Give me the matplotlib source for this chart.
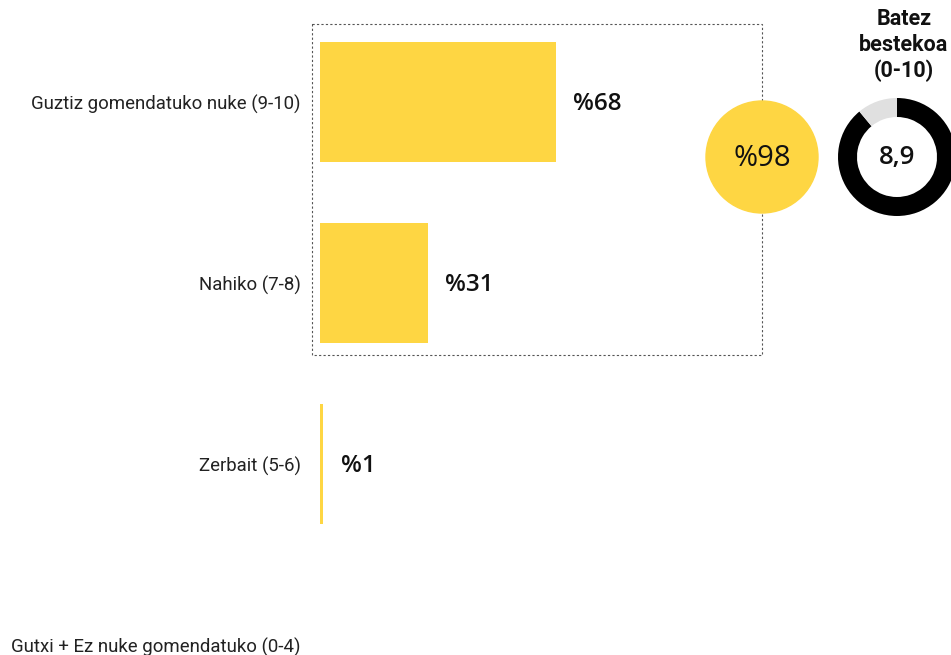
import matplotlib.pyplot as plt
from matplotlib.patches import Rectangle, Circle

# Recommendation levels and their shares (%)
categories = ['Guztiz gomendatuko nuke (9-10)', 'Nahiko (7-8)',
              'Zerbait (5-6)', 'Gutxi + Ez nuke gomendatuko (0-4)']
shares = [68, 31, 1, 0]
value_labels = ['%68', '%31', '%1', '']
recommend_total = 98          # 7-10 combined
avg_score = 8.9               # average on 0-10 scale
avg_label = '8,9'

YELLOW = '#FED643'
W, H = 951, 655

fig = plt.figure(figsize=(W / 100, H / 100), dpi=100)


def px_axes(x0, y0, x1, y1):
    # axes placed with pixel coords measured from the top-left corner
    return fig.add_axes([x0 / W, 1 - y1 / H, (x1 - x0) / W, (y1 - y0) / H])


# main bar chart: 0..100 spans 347 px starting at x=320
ax = px_axes(320, 0, 667, H)
ypos = range(len(categories))
ax.barh(ypos, shares, height=0.66, color=YELLOW)
ax.set_xlim(0, 100)
ax.set_ylim((655 - 102) / 181, -102 / 181)
ax.set_yticks(list(ypos))
ax.set_yticklabels(categories, fontsize=13.4, family='Roboto', color='#222222')
ax.tick_params(axis='y', length=0, pad=14)
ax.set_xticks([])
for s in ax.spines.values():
    s.set_visible(False)
for y, v, lab in zip(ypos, shares, value_labels):
    if lab:
        ax.text(v + 5, y + 0.01, lab, va='center', ha='left', fontsize=17.5,
                family='Open Sans', fontweight='semibold', color='#111111')

# overlay in pixel space for the frame and the summary circle
ov = fig.add_axes([0, 0, 1, 1], facecolor='none')
ov.set_xlim(0, W)
ov.set_ylim(H, 0)
ov.axis('off')
ov.add_patch(Rectangle((312, 24), 450, 331, fill=False, ec='#555555',
                       lw=0.8, ls=(0, (2, 2))))
ov.add_patch(Circle((762, 157), 56, color=YELLOW, zorder=3))
ov.text(762, 158, f'%{recommend_total}', ha='center', va='center',
        fontsize=21, family='Open Sans', fontweight='normal',
        color='#111111', zorder=4)

ov.text(904, 45, 'Batez\nbestekoa\n(0-10)', ha='center', va='center',
        fontsize=15.5, family='Roboto', fontweight='bold', linespacing=1.2,
        color='#111111')

# donut for the average score
dax = px_axes(838, 98, 956, 216)
dax.pie([avg_score, 10 - avg_score], colors=['#000000', '#E0E0E0'],
        startangle=90, counterclock=False, radius=1,
        wedgeprops=dict(width=19 / 59, linewidth=0))
dax.set_xlim(-1, 1)
dax.set_ylim(-1, 1)
dax.set_aspect('equal')
dax.text(0, 0, avg_label, ha='center', va='center', fontsize=18.5,
         family='Open Sans', fontweight='semibold', color='#111111')

fig.savefig('out.png', dpi=100)
